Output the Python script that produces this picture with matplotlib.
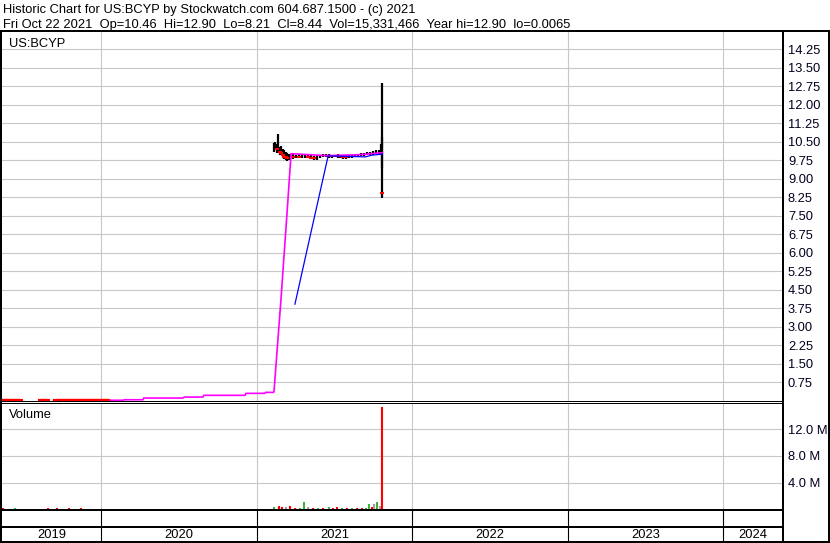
import pandas as pd
import matplotlib
matplotlib.use('Agg')
import matplotlib.pyplot as plt
from matplotlib.lines import Line2D


W, H = 830, 543
OUT_PATH = 'out.png'

TITLE_1 = 'Historic Chart for US:BCYP by Stockwatch.com 604.687.1500 - (c) 2021'
TITLE_2 = ('Fri Oct 22 2021  Op=10.46  Hi=12.90  Lo=8.21  Cl=8.44  '
           'Vol=15,331,466  Year hi=12.90  lo=0.0065')
SYMBOL = 'US:BCYP'

# 2019 shell prices, near zero
early_dates = ['2019-05-14', '2019-05-21', '2019-05-28', '2019-06-04', '2019-06-11',
               '2019-06-18', '2019-06-25', '2019-08-13', '2019-08-20', '2019-08-27',
               '2019-09-17', '2019-09-24', '2019-10-01', '2019-10-08', '2019-10-15',
               '2019-10-22', '2019-10-29', '2019-11-05', '2019-11-12', '2019-11-19',
               '2019-11-26', '2019-12-03', '2019-12-10', '2019-12-17', '2019-12-24',
               '2019-12-31', '2020-01-07', '2020-01-14']
early_close = [0.04, 0.03, 0.03, 0.04, 0.03, 0.03, 0.02, 0.03, 0.02, 0.02,
               0.03, 0.02, 0.02, 0.03, 0.02, 0.02, 0.02, 0.03, 0.02, 0.02,
               0.02, 0.02, 0.02, 0.02, 0.02, 0.02, 0.01, 0.01]

# 2021 SPAC prices
dates = ['2021-02-09', '2021-02-12', '2021-02-16', '2021-02-19', '2021-02-23',
         '2021-02-26', '2021-03-02', '2021-03-05', '2021-03-09', '2021-03-12',
         '2021-03-16', '2021-03-19', '2021-03-26', '2021-04-02', '2021-04-09',
         '2021-04-16', '2021-04-23', '2021-04-30', '2021-05-07', '2021-05-14',
         '2021-05-21', '2021-05-28', '2021-06-04', '2021-06-11', '2021-06-18',
         '2021-06-25', '2021-07-02', '2021-07-09', '2021-07-16', '2021-07-23',
         '2021-07-30', '2021-08-06', '2021-08-13', '2021-08-20', '2021-08-27',
         '2021-09-03', '2021-09-10', '2021-09-17', '2021-09-24', '2021-10-01',
         '2021-10-08', '2021-10-15', '2021-10-20', '2021-10-21', '2021-10-22']
high = [10.45, 10.50, 10.40, 10.80, 10.30, 10.35, 10.20, 10.15, 10.10, 10.05,
        10.00, 10.02, 10.00, 9.98, 10.00, 9.98, 10.02, 9.97, 9.95, 9.93,
        9.95, 9.98, 10.00, 10.02, 10.00, 9.98, 9.98, 9.99, 9.98, 9.97,
        9.96, 9.97, 9.98, 10.00, 10.02, 10.03, 10.05, 10.08, 10.10, 10.12,
        10.15, 10.18, 10.40, 10.70, 12.90]
low = [10.10, 10.15, 10.05, 10.10, 9.95, 9.95, 9.85, 9.80, 9.75, 9.72,
       9.78, 9.80, 9.82, 9.85, 9.84, 9.85, 9.86, 9.83, 9.80, 9.76,
       9.78, 9.85, 9.88, 9.88, 9.86, 9.86, 9.87, 9.86, 9.85, 9.82,
       9.80, 9.84, 9.86, 9.88, 9.90, 9.92, 9.93, 9.95, 9.97, 9.98,
       10.00, 10.00, 9.95, 9.45, 8.21]
close = [10.30, 10.35, 10.20, 10.25, 10.10, 10.05, 9.95, 9.90, 9.88, 9.85,
         9.90, 9.92, 9.90, 9.92, 9.90, 9.93, 9.95, 9.90, 9.86, 9.84,
         9.88, 9.92, 9.95, 9.96, 9.93, 9.92, 9.93, 9.92, 9.91, 9.90,
         9.88, 9.90, 9.92, 9.95, 9.97, 9.98, 10.00, 10.03, 10.05, 10.06,
         10.08, 10.10, 10.20, 10.46, 8.44]

# moving averages
ma_fast_dates = ['2019-09-11', '2020-02-21', '2020-02-24', '2020-04-08', '2020-04-10',
                 '2020-07-11', '2020-07-14', '2020-08-27', '2020-08-29', '2020-12-04',
                 '2020-12-06', '2021-01-19', '2021-01-21', '2021-02-09', '2021-02-10',
                 '2021-02-26', '2021-03-12', '2021-03-22', '2021-06-14', '2021-08-31',
                 '2021-10-22']
ma_fast = [0.01, 0.01, 0.03, 0.03, 0.10, 0.10, 0.14, 0.14, 0.21, 0.21,
           0.29, 0.29, 0.33, 0.33, 0.40, 4.05, 7.50, 10.02, 9.94, 9.98, 10.06]
ma_slow_dates = ['2021-03-31', '2021-05-08', '2021-06-17', '2021-09-12', '2021-09-28',
                 '2021-10-22']
ma_slow = [3.91, 6.85, 9.93, 9.89, 9.96, 10.00]

# volume (millions), direction: 1 up, -1 down, 0 flat
vol_dates = ['2019-05-16', '2019-05-30', '2019-06-13', '2019-06-27', '2019-08-15',
             '2019-08-29', '2019-09-19', '2019-10-03', '2019-10-17', '2019-10-31',
             '2019-11-14', '2019-11-28', '2019-12-12', '2019-12-26', '2020-01-09',
             '2021-02-10', '2021-02-22', '2021-02-28', '2021-03-10', '2021-03-19',
             '2021-03-31', '2021-04-12', '2021-04-21', '2021-05-01', '2021-05-13',
             '2021-05-25', '2021-06-05', '2021-06-19', '2021-06-28', '2021-07-08',
             '2021-07-20', '2021-07-31', '2021-08-12', '2021-08-24', '2021-09-04',
             '2021-09-15', '2021-09-21', '2021-09-28', '2021-10-03', '2021-10-10',
             '2021-10-17', '2021-10-22']
vol_m = [0.15, 0.12, 0.15, 0.10, 0.12, 0.15, 0.15, 0.12, 0.15, 0.12,
         0.15, 0.12, 0.10, 0.12, 0.10,
         0.30, 0.45, 0.30, 0.30, 0.45, 0.15, 0.15, 1.05, 0.30, 0.15,
         0.15, 0.15, 0.30, 0.15, 0.30, 0.15, 0.15, 0.15, 0.15, 0.15,
         0.15, 0.75, 0.30, 0.75, 1.05, 0.45, 15.33]
vol_dir = [-1, -1, 1, -1, 1, -1, -1, 1, -1, 0, -1, -1, 1, -1, 0,
           1, -1, -1, 0, -1, -1, 1, 1, 0, -1,
           1, -1, 1, -1, -1, 1, -1, 1, -1, -1,
           1, 1, -1, 0, 1, 0, -1]

price_ticks = [0.75 * i for i in range(1, 20)]
vol_ticks = [4, 8, 12]
years = [2019, 2020, 2021, 2022, 2023, 2024]

X_START = pd.Timestamp('2019-05-13')
X_END = pd.Timestamp('2024-05-18')

GRID = '#c8c8c8'
FONT = 'Liberation Sans'
FS = 9.3


def px(x, y):
    '''pixel position -> figure fraction'''
    return x / W, 1 - y / H


def box(x0, y0, x1, y1):
    return [x0 / W, 1 - y1 / H, (x1 - x0) / W, (y1 - y0) / H]


def line(fig, x0, y0, x1, y1, lw=2):
    a, b = px(x0, y0)
    c, d = px(x1, y1)
    fig.add_artist(Line2D([a, c], [b, d], transform=fig.transFigure,
                          color='black', lw=lw * 0.72, solid_capstyle='butt'))


def style_axes(ax):
    ax.set_xlim(X_START, X_END)
    for s in ax.spines.values():
        s.set_visible(False)
    ax.tick_params(axis='x', bottom=False, labelbottom=False)
    ax.tick_params(axis='y', left=False, right=False, labelleft=False,
                   labelright=True, length=0, pad=4.3, labelsize=FS,
                   labelcolor='#000020')
    for y in years[1:]:
        ax.axvline(pd.Timestamp(f'{y}-01-01'), color=GRID, lw=0.8, zorder=0)


def main():
    plt.rcParams['font.family'] = [FONT, 'DejaVu Sans']
    fig = plt.figure(figsize=(W / 100, H / 100), dpi=100)
    fig.patch.set_facecolor('white')

    # header
    fig.text(*px(3, 12.7), TITLE_1, fontsize=FS, va='baseline')
    fig.text(*px(3, 28), TITLE_2, fontsize=FS, va='baseline')

    # price panel
    ax = fig.add_axes(box(2, 31, 782, 400.5))
    style_axes(ax)
    ax.set_ylim(0, 15)
    ax.set_yticks(price_ticks)
    ax.set_yticklabels([f'{t:.2f}' for t in price_ticks])
    ax.grid(axis='y', color=GRID, lw=0.8)
    ax.set_axisbelow(True)

    ax.plot(pd.to_datetime(ma_fast_dates), ma_fast, color='#ff00ff', lw=1.2)
    ax.plot(pd.to_datetime(ma_slow_dates), ma_slow, color='#0000ff', lw=0.9)

    ed = pd.to_datetime(early_dates)
    ax.plot(ed, early_close, ls='none', marker='_', color='red', ms=4.5, mew=1.6)

    d = pd.to_datetime(dates)
    ax.vlines(d, low, high, color='black', lw=1.6, zorder=1)
    down = [i for i in range(1, len(close)) if close[i] < close[i - 1]]
    ax.plot(d[down], [close[i] for i in down], ls='none', marker='_',
            color='red', ms=3, mew=1.5, zorder=1.5)

    ax.text(7 / 780, (400.5 - 46.7) / 369.5, SYMBOL, transform=ax.transAxes,
            fontsize=FS, va='baseline')

    # volume panel
    axv = fig.add_axes(box(2, 402.5, 782, 509.5))
    style_axes(axv)
    axv.set_ylim(0, 16)
    axv.set_yticks(vol_ticks)
    axv.set_yticklabels([f'{t:.1f} M' for t in vol_ticks])
    axv.grid(axis='y', color=GRID, lw=0.8)
    axv.set_axisbelow(True)
    colors = {1: '#44b044', -1: '#ff0000', 0: '#a0a0a0'}
    axv.vlines(pd.to_datetime(vol_dates), 0, vol_m,
               color=[colors[v] for v in vol_dir], lw=1.5)
    axv.text(7 / 780, (509.5 - 418) / 107, 'Volume', transform=axv.transAxes,
             fontsize=FS, va='baseline')

    # date band
    axd = fig.add_axes(box(2, 509.5, 782, 542))
    axd.set_xlim(X_START, X_END)
    axd.set_ylim(0, 1)
    axd.axis('off')
    for y in years[1:]:
        axd.axvline(pd.Timestamp(f'{y}-01-01'), color='black', lw=0.8)
    for y in years:
        a = max(pd.Timestamp(f'{y}-01-01'), X_START)
        b = min(pd.Timestamp(f'{y + 1}-01-01'), X_END)
        axd.text(a + (b - a) / 2, (542 - 535.5) / 32.5, str(y), fontsize=FS,
                 ha='center', va='center')

    # frame lines
    line(fig, 0, 31, W, 31)
    line(fig, 0, 400.5, 782, 400.5, lw=1)
    line(fig, 0, 402.8, 782, 402.8, lw=1)
    line(fig, 0, 509.5, 782, 509.5)
    line(fig, 0, 526.8, 782, 526.8)
    line(fig, 0, 542, W, 542)
    line(fig, 1, 31, 1, H)
    line(fig, 783, 31, 783, H)
    line(fig, 829, 31, 829, H)

    fig.savefig(OUT_PATH, dpi=100)


if __name__ == '__main__':
    main()
